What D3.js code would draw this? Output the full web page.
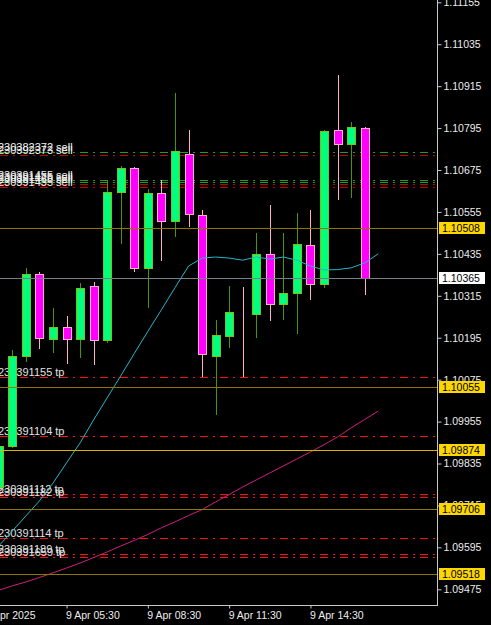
<!DOCTYPE html>
<html>
<head>
<meta charset="utf-8">
<script src="https://cdn.jsdelivr.net/npm/d3@7"></script>
<style>
html, body { margin:0; padding:0; background:#000; overflow:hidden; }
svg { display:block; }
text { font-family:"Liberation Sans", Arial, sans-serif; font-size:10.5px; }
</style>
</head>
<body>
<svg id="drawing_region"></svg>
<script>
// EURUSD-ish M30 candles, 9 Apr 2025 03:00 .. 16:30
const opens  = [1.09769,1.09885,1.10143,1.10377,1.10191,1.10227,1.10191,1.10343,1.10188,1.10613,1.10680,1.10395,1.10608,1.10530,1.10721,1.10546,1.10144,1.10201,1.10267,1.10262,1.10435,1.10292,1.10322,1.10460,1.10348,1.10789,1.10749,1.10795];
const highs  = [1.09889,1.10160,1.10395,1.10383,1.10279,1.10257,1.10352,1.10355,1.10646,1.10687,1.10684,1.10620,1.10646,1.10896,1.10790,1.10561,1.10246,1.10343,1.10341,1.10496,1.10575,1.10496,1.10551,1.10561,1.10790,1.10947,1.10813,1.10799];
const lows   = [1.09760,1.09882,1.10128,1.10167,1.10155,1.10123,1.10139,1.10119,1.10182,1.10465,1.10387,1.10284,1.10417,1.10487,1.10516,1.10086,1.09977,1.10168,1.10086,1.10198,1.10246,1.10248,1.10208,1.10306,1.10341,1.10591,1.10597,1.10320];
const closes = [1.09885,1.10143,1.10377,1.10195,1.10227,1.10191,1.10336,1.10188,1.10611,1.10680,1.10395,1.10608,1.10530,1.10729,1.10548,1.10148,1.10203,1.10268,1.10267,1.10434,1.10292,1.10324,1.10462,1.10348,1.10787,1.10749,1.10798,1.10365];

// moving averages (shifted one bar to the right)
const maFast = [1.09599,1.09642,1.09685,1.09728,1.09779,1.09837,1.09894,1.09960,1.10023,1.10086,1.10150,1.10213,1.10275,1.10338,1.10400,1.10423,1.10426,1.10423,1.10417,1.10426,1.10420,1.10426,1.10417,1.10400,1.10389,1.10390,1.10395,1.10409,1.10435];
const maSlow = [1.09472,1.09485,1.09496,1.09509,1.09522,1.09536,1.09550,1.09566,1.09582,1.09599,1.09615,1.09632,1.09651,1.09668,1.09686,1.09703,1.09725,1.09746,1.09768,1.09788,1.09808,1.09828,1.09848,1.09868,1.09889,1.09911,1.09937,1.09961,1.09985];

// horizontal levels
const levels = [1.10508, 1.10055, 1.09874, 1.09706, 1.09518];
const bid = 1.10365;

// order lines
const sellPrices = [1.10727, 1.10717, 1.10646, 1.10640, 1.10634, 1.10627];
const sellKinds  = ["entry", "sl", "entry", "entry", "sl", "sl"];
const sellNames  = ["230382372 sell", "230392373 sell", "230391455 sell", "230391475 sell", "230391465 sell", "230391435 sell"];
const tpPrices = [1.10083, 1.09914, 1.09747, 1.09739, 1.09623, 1.09576, 1.09568];
const tpNames  = ["230391155 tp", "230391104 tp", "230391112 tp", "230391182 tp", "230391114 tp", "230391189 tp", "230391659 tp"];

// axes
const priceTicks = [1.11155,1.11035,1.10915,1.10795,1.10675,1.10555,1.10435,1.10315,1.10195,1.10075,1.09955,1.09835,1.09715,1.09595,1.09475];
const timeTickIdx = [-1, 5, 11, 17, 23];
const timeTickLabels = ["9 Apr 2025", "9 Apr 05:30", "9 Apr 08:30", "9 Apr 11:30", "9 Apr 14:30"];

const W = 491, H = 625;
const plotW = 437, plotH = 605;

const svg = d3.select("#drawing_region").attr("width", W).attr("height", H);
svg.append("rect").attr("width", W).attr("height", H).attr("fill", "#000");

svg.append("defs").append("clipPath").attr("id", "plotclip")
    .append("rect").attr("width", plotW).attr("height", plotH);

const xscale = d3.scaleLinear().domain([0, 28]).range([-1.2, 378.2]);
const yscale = d3.scaleLinear().domain([1.11155, 1.09475]).range([2.3, 589.3]);
const crisp = v => Math.round(v) + 0.5;

const plot = svg.append("g").attr("clip-path", "url(#plotclip)");

// order lines (background, dash-dot)
const dashdot = "8,5,2,5";
const kindColor = { entry: "#1ea01e", sl: "#c00000" };
plot.selectAll(".sell").data(sellPrices).enter().append("line")
    .attr("x1", 0).attr("x2", plotW)
    .attr("y1", d => crisp(yscale(d))).attr("y2", d => crisp(yscale(d)))
    .attr("stroke", (d, i) => kindColor[sellKinds[i]])
    .attr("stroke-dasharray", dashdot);
plot.selectAll(".tp").data(tpPrices).enter().append("line")
    .attr("x1", 0).attr("x2", plotW)
    .attr("y1", d => crisp(yscale(d))).attr("y2", d => crisp(yscale(d)))
    .attr("stroke", "#ff1010")
    .attr("stroke-dasharray", dashdot);

// line descriptions (drawn under the candles, overlapping as in the terminal)
plot.selectAll(".sname").data(sellPrices).enter().append("text")
    .attr("x", -2).attr("y", d => Math.round(yscale(d)) - 1)
    .attr("fill", "#eeeeee").style("font-size", "11px")
    .text((d, i) => sellNames[i]);
plot.selectAll(".tname").data(tpPrices).enter().append("text")
    .attr("x", -2).attr("y", d => Math.round(yscale(d)) - 1)
    .attr("fill", "#e2e2e2").style("font-size", "11px")
    .text((d, i) => tpNames[i]);

// candles
const candles = opens.map((o, i) => ({ i: i, o: o, h: highs[i], l: lows[i], c: closes[i] }));
const upFill = "#00ff7f", upLine = "#7cc400", upWick = "#4e9400";
const dnFill = "#ff00ff", dnLine = "#ffb0c8", dnWick = "#ffb0c8";

const cg = plot.selectAll(".candle").data(candles).enter().append("g");
cg.append("line")
    .attr("x1", d => crisp(xscale(d.i))).attr("x2", d => crisp(xscale(d.i)))
    .attr("y1", d => Math.round(yscale(d.h))).attr("y2", d => Math.round(yscale(d.l)) + 1)
    .attr("stroke", d => d.c > d.o ? upWick : dnWick);
cg.append("rect")
    .attr("x", d => Math.round(xscale(d.i)) - 4 + 0.5)
    .attr("width", 8)
    .attr("y", d => Math.round(yscale(Math.max(d.o, d.c))) + 0.5)
    .attr("height", d => Math.round(yscale(Math.min(d.o, d.c))) - Math.round(yscale(Math.max(d.o, d.c))))
    .attr("fill", d => d.c > d.o ? upFill : dnFill)
    .attr("stroke", d => d.c > d.o ? upLine : dnLine);

// moving averages
const maLine = d3.line().x((d, i) => xscale(i)).y(d => yscale(d));
plot.append("path").datum(maSlow).attr("d", maLine)
    .attr("fill", "none").attr("stroke", "#d0207e").attr("stroke-width", 1);
plot.append("path").datum(maFast).attr("d", maLine)
    .attr("fill", "none").attr("stroke", "#22b8c8").attr("stroke-width", 1);

// levels and bid line (foreground)
const levelColors = ["#8c7800", "#8c7800", "#d6b400", "#8c7800", "#8c7800"];
plot.selectAll(".level").data(levels).enter().append("line")
    .attr("x1", 0).attr("x2", plotW)
    .attr("y1", d => crisp(yscale(d))).attr("y2", d => crisp(yscale(d)))
    .attr("stroke", (d, i) => levelColors[i]);
plot.append("line")
    .attr("x1", 0).attr("x2", plotW)
    .attr("y1", crisp(yscale(bid))).attr("y2", crisp(yscale(bid)))
    .attr("stroke", "#76808a");

// right price axis
const fmt = d3.format(".5f");
const yaxis = d3.axisRight(yscale).tickValues(priceTicks).tickFormat(fmt)
    .tickSize(4).tickSizeOuter(0).tickPadding(2);
const yg = svg.append("g").attr("transform", `translate(${plotW + 0.5},0)`).call(yaxis);
yg.select(".domain").remove();
yg.selectAll("line").attr("stroke", "#c8c8c8");
yg.selectAll("text").attr("fill", "#ececec").style("font-size", "10.5px")
    .style("font-family", '"Liberation Sans", Arial, sans-serif');

// bottom time axis
const xaxis = d3.axisBottom(xscale).tickValues(timeTickIdx)
    .tickFormat((d, i) => timeTickLabels[i]).tickSize(3).tickSizeOuter(0).tickPadding(3);
const xg = svg.append("g").attr("transform", `translate(0,${plotH + 0.5})`).call(xaxis);
xg.select(".domain").remove();
xg.selectAll("line").attr("stroke", "#c8c8c8");
xg.selectAll("text").attr("fill", "#ececec").attr("text-anchor", "start").attr("x", -1)
    .style("font-size", "10.5px").style("font-family", '"Liberation Sans", Arial, sans-serif');

// frame lines
svg.append("line").attr("x1", plotW + 0.5).attr("x2", plotW + 0.5).attr("y1", 0).attr("y2", plotH + 1)
    .attr("stroke", "#c8c8c8");
svg.append("line").attr("x1", 0).attr("x2", plotW + 1).attr("y1", plotH + 0.5).attr("y2", plotH + 0.5)
    .attr("stroke", "#c8c8c8");

// price boxes on the axis
const boxes = levels.map(v => ({ v: v, fill: "#ffd700" })).concat([{ v: bid, fill: "#ffffff" }]);
const bg = svg.selectAll(".pbox").data(boxes).enter().append("g")
    .attr("transform", d => `translate(439,${Math.round(yscale(d.v))})`);
bg.append("rect").attr("x", 0).attr("y", -6).attr("width", 46).attr("height", 12)
    .attr("fill", d => d.fill);
bg.append("text").attr("x", 3).attr("y", 0).attr("dy", "0.35em")
    .attr("fill", "#000").text(d => fmt(d.v));
</script>
</body>
</html>
